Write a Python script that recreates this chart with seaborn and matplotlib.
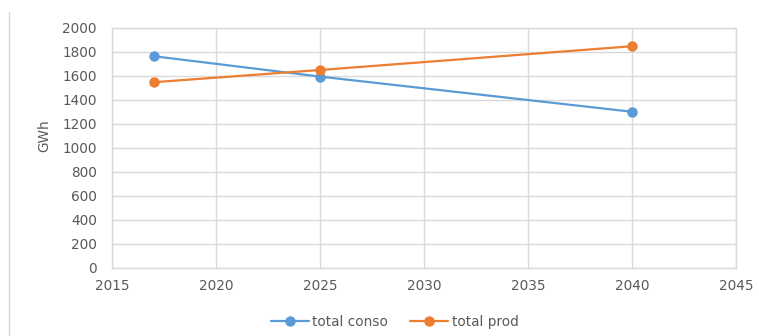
import matplotlib
matplotlib.use("Agg")
import matplotlib.pyplot as plt
from matplotlib.lines import Line2D
import seaborn as sns
import pandas as pd

years = [2017, 2025, 2040]
total_conso = [1765, 1595, 1302]
total_prod = [1548, 1650, 1848]
series_names = ["total conso", "total prod"]
colors = ["#5B9BD5", "#ED7D31"]
x_ticks = [2015, 2020, 2025, 2030, 2035, 2040, 2045]
y_ticks = list(range(0, 2001, 200))

df = pd.DataFrame({
    "year": years * 2,
    "GWh": total_conso + total_prod,
    "series": [series_names[0]] * len(years) + [series_names[1]] * len(years),
})

sns.set_theme(style="white")
plt.rcParams["font.family"] = ["DejaVu Sans"]

fs = 9.8
fig = plt.figure(figsize=(7.59, 3.36), dpi=100)
ax = fig.add_axes([0.1476, 0.2024, 0.8221, 0.7143])

sns.lineplot(data=df, x="year", y="GWh", hue="series", palette=colors,
             marker="o", markersize=7.5, markeredgewidth=0, linewidth=1.6,
             ax=ax, legend=False)

ax.set_xlim(2015, 2045)
ax.set_ylim(0, 2000)
ax.set_xticks(x_ticks)
ax.set_yticks(y_ticks)
ax.grid(True, color="#d9d9d9", linewidth=1.0)
ax.set_axisbelow(True)
for side, sp in ax.spines.items():
    sp.set_color("#d9d9d9")
    sp.set_linewidth(1.0)
ax.tick_params(axis="both", length=0, labelsize=fs, colors="#595959")
ax.tick_params(axis="y", pad=11)
ax.tick_params(axis="x", pad=8)
ax.set_xlabel("")
ax.set_ylabel("GWh", fontsize=fs, color="#595959")
ax.yaxis.set_label_coords(-0.098, 0.55)

handles = [Line2D([0], [0], color=c, marker="o", markersize=7.5, markeredgewidth=0,
                  linewidth=1.6) for c in colors]
fig.legend(handles, series_names, loc="center", bbox_to_anchor=(0.520, 0.042),
           ncol=2, frameon=False, fontsize=fs, labelcolor="#595959",
           handlelength=2.8, handletextpad=0.25, columnspacing=1.6)

# thin frame rule at the left edge
fig.add_artist(Line2D([9 / 759, 9 / 759], [0, 1 - 12 / 336], color="#d9d9d9",
                      linewidth=1.0, transform=fig.transFigure))

fig.savefig("out.png", dpi=100)
